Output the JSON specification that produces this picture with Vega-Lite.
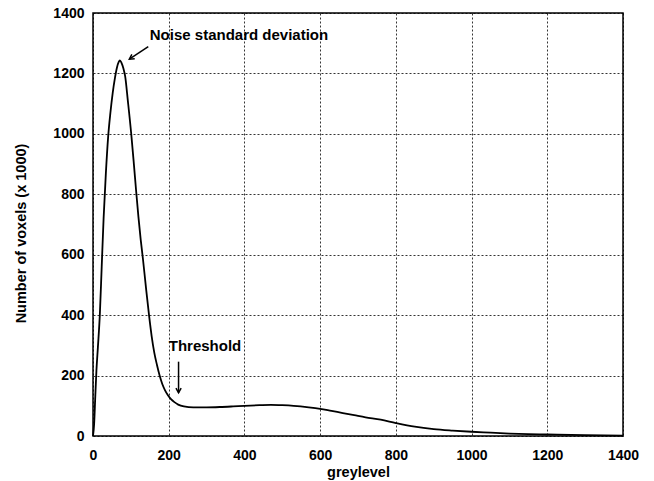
{
  "$schema": "https://vega.github.io/schema/vega-lite/v6.json",
  "width": 530,
  "height": 423,
  "autosize": {"type": "none"},
  "padding": {"left": 93, "top": 13, "right": 31, "bottom": 45},
  "background": "white",
  "config": {
    "view": {"stroke": "black", "strokeWidth": 1.5},
    "font": "Liberation Sans",
    "axis": {
      "domain": false,
      "grid": true,
      "gridColor": "black",
      "gridOpacity": 1,
      "gridDash": [2, 2],
      "gridWidth": 0.8,
      "ticks": false,
      "format": "d",
      "labelFlush": false,
      "labelFont": "Liberation Sans",
      "labelFontWeight": "bold",
      "labelFontSize": 14,
      "labelColor": "black",
      "titleFont": "Liberation Sans",
      "titleFontWeight": "bold",
      "titleFontSize": 14.5,
      "titleColor": "black"
    }
  },
  "datasets": {
    "curve": [
      {"g": 0, "n": 0}, {"g": 3, "n": 40}, {"g": 6, "n": 130}, {"g": 9, "n": 215},
      {"g": 13, "n": 295}, {"g": 18, "n": 400}, {"g": 23, "n": 560}, {"g": 28, "n": 720},
      {"g": 34, "n": 870}, {"g": 40, "n": 990}, {"g": 46, "n": 1070}, {"g": 52, "n": 1135},
      {"g": 58, "n": 1185}, {"g": 63, "n": 1218}, {"g": 68, "n": 1238}, {"g": 71, "n": 1243},
      {"g": 75, "n": 1236}, {"g": 80, "n": 1218}, {"g": 85, "n": 1190}, {"g": 92, "n": 1110},
      {"g": 101, "n": 1000}, {"g": 108, "n": 900}, {"g": 114, "n": 810}, {"g": 120, "n": 725},
      {"g": 126, "n": 650}, {"g": 132, "n": 585}, {"g": 140, "n": 490}, {"g": 148, "n": 400},
      {"g": 155, "n": 330}, {"g": 162, "n": 275}, {"g": 169, "n": 235}, {"g": 176, "n": 200},
      {"g": 183, "n": 172}, {"g": 190, "n": 152}, {"g": 198, "n": 135}, {"g": 206, "n": 122},
      {"g": 215, "n": 112}, {"g": 225, "n": 104}, {"g": 240, "n": 98}, {"g": 265, "n": 95},
      {"g": 300, "n": 95}, {"g": 335, "n": 96}, {"g": 370, "n": 98}, {"g": 400, "n": 100},
      {"g": 440, "n": 102}, {"g": 470, "n": 103}, {"g": 500, "n": 102}, {"g": 530, "n": 100},
      {"g": 570, "n": 95}, {"g": 600, "n": 90}, {"g": 630, "n": 83}, {"g": 660, "n": 76},
      {"g": 690, "n": 69}, {"g": 720, "n": 62}, {"g": 760, "n": 54}, {"g": 800, "n": 43},
      {"g": 850, "n": 31}, {"g": 900, "n": 23}, {"g": 950, "n": 18}, {"g": 1000, "n": 14},
      {"g": 1050, "n": 11}, {"g": 1100, "n": 8}, {"g": 1150, "n": 6}, {"g": 1200, "n": 5},
      {"g": 1300, "n": 3}, {"g": 1400, "n": 1}
    ],
    "labels": [
      {"g": 150, "n": 1327, "text": "Noise standard deviation"},
      {"g": 200, "n": 298, "text": "Threshold"}
    ],
    "arrows": [
      {"g": 146, "n": 1289, "g2": 96, "n2": 1247, "angle": 236.5},
      {"g": 226, "n": 246, "g2": 226, "n2": 143, "angle": 180}
    ]
  },
  "layer": [
    {
      "data": {"name": "curve"},
      "mark": {"type": "line", "color": "black", "strokeWidth": 1.8, "interpolate": "monotone"},
      "encoding": {
        "x": {"field": "g", "type": "quantitative",
              "scale": {"domain": [0, 1400], "nice": false},
              "axis": {"values": [0, 200, 400, 600, 800, 1000, 1200, 1400], "labelPadding": 12, "title": "greylevel", "titlePadding": 3}},
        "y": {"field": "n", "type": "quantitative",
              "scale": {"domain": [0, 1400], "nice": false},
              "axis": {"values": [0, 200, 400, 600, 800, 1000, 1200, 1400], "labelPadding": 9, "title": "Number of voxels (x 1000)", "titleX": -65, "titleY": 220}}
      }
    },
    {
      "data": {"name": "labels"},
      "mark": {"type": "text", "align": "left", "baseline": "middle", "fontWeight": "bold", "fontSize": 15, "font": "Liberation Sans", "color": "black"},
      "encoding": {
        "x": {"field": "g", "type": "quantitative"},
        "y": {"field": "n", "type": "quantitative"},
        "text": {"field": "text"}
      }
    },
    {
      "data": {"name": "arrows"},
      "mark": {"type": "rule", "color": "black", "strokeWidth": 1.5},
      "encoding": {
        "x": {"field": "g", "type": "quantitative"},
        "y": {"field": "n", "type": "quantitative"},
        "x2": {"field": "g2"},
        "y2": {"field": "n2"}
      }
    },
    {
      "data": {"name": "arrows"},
      "mark": {"type": "point", "shape": "M -0.55 1 L 0 0 L 0.55 1", "filled": false, "color": "black", "strokeWidth": 1.5, "size": 90, "opacity": 1},
      "encoding": {
        "x": {"field": "g2", "type": "quantitative"},
        "y": {"field": "n2", "type": "quantitative"},
        "angle": {"field": "angle", "type": "quantitative", "scale": null}
      }
    }
  ]
}
